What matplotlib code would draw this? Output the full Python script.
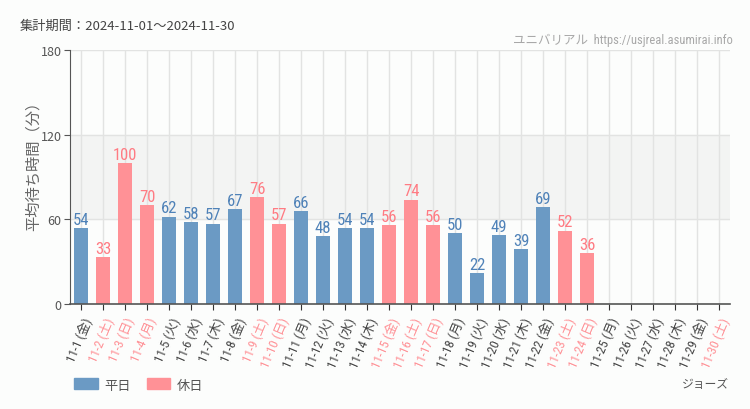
import matplotlib

matplotlib.use("Agg")
import matplotlib.pyplot as plt
from matplotlib.patches import Patch

plt.rcParams["font.family"] = ["Noto Sans CJK JP", "DejaVu Sans"]
COND = ["Roboto Condensed", "Noto Sans CJK JP", "DejaVu Sans"]

days = [f"11-{d}" for d in range(1, 31)]
weekdays = (["金", "土", "日", "月", "火", "水", "木"] * 5)[:30]
holiday = [0, 1, 1, 1, 0, 0, 0, 0, 1, 1,
           0, 0, 0, 0, 1, 1, 1, 0, 0, 0,
           0, 0, 1, 1, 0, 0, 0, 0, 0, 1]
waits = [54, 33, 100, 70, 62, 58, 57, 67, 76, 57,
         66, 48, 54, 54, 56, 74, 56, 50, 22, 49,
         39, 69, 52, 36]
yticks = [0, 60, 120, 180]

BLUE = "#6b9ac4"
PINK = "#ff9196"
BLUE_TXT = "#4f82b8"
PINK_TXT = "#ff7b83"
GRAY_TXT = "#444444"

fig = plt.figure(figsize=(7.5, 4.1), dpi=100, facecolor="#fcfdfc")
ax = fig.add_axes([70 / 750, 105 / 410, 660 / 750, 254 / 410])
ax.set_facecolor("#fcfdfc")

x = list(range(len(days)))
ax.axhspan(60, 120, color="#f3f4f3", zorder=0)
for xi in x:
    ax.axvline(xi, color="#e2e3e2", lw=1, zorder=1)
for yv in yticks[1:]:
    ax.axhline(yv, color="#e2e3e2", lw=1, zorder=1)

for i, v in enumerate(waits):
    c = PINK if holiday[i] else BLUE
    ax.bar(i, v, width=0.67, color=c, zorder=2)
    ax.text(i, v + 0.8, str(v), ha="center", va="bottom", fontsize=12,
            family=COND, color=PINK_TXT if holiday[i] else BLUE_TXT, zorder=3)

ax.set_xlim(-0.5, len(days) - 0.5)
ax.set_ylim(0, 180)
ax.set_yticks(yticks)
ax.tick_params(axis="y", colors="#555555", labelsize=9, length=4, pad=2)
ax.set_xticks(x)
labels = ax.set_xticklabels([f"{d} ({w})" for d, w in zip(days, weekdays)],
                            rotation=67, ha="right", va="top", rotation_mode="anchor",
                            fontsize=9.3, family=COND)
for lab, h in zip(labels, holiday):
    lab.set_color(PINK if h else GRAY_TXT)
ax.tick_params(axis="x", length=4, color="#333333", pad=4)

for s in ["top", "right"]:
    ax.spines[s].set_visible(False)
ax.spines["left"].set_color("#555555")
ax.spines["bottom"].set_color("#555555")
ax.spines["bottom"].set_linewidth(1.2)

ax.set_ylabel("平均待ち時間（分）", fontsize=11, color="#666666")
ax.yaxis.set_label_coords(-28 / 660, (305 - 162) / 254)

fig.text(20 / 750, 1 - 26 / 410, "集計期間：2024-11-01～2024-11-30", fontsize=9.5,
         color=GRAY_TXT, va="center", ha="left")
fig.text(733 / 750, 1 - 40 / 410, "ユニバリアル  https://usjreal.asumirai.info",
         fontsize=9, color="#a8a8a8", va="center", ha="right", family=COND)
fig.text(729 / 750, 1 - 385 / 410, "ジョーズ", fontsize=8.5, color="#555555",
         va="center", ha="right")

handles = [Patch(color=BLUE), Patch(color=PINK)]
fig.legend(handles, ["平日", "休日"], loc="center left", bbox_to_anchor=(62 / 750, 1 - 386 / 410),
           ncol=2, frameon=False, fontsize=9.5, handlelength=1.8, handleheight=0.9,
           columnspacing=1.2, handletextpad=0.5, labelcolor="#555555")

fig.savefig("out.png", dpi=100, facecolor=fig.get_facecolor())
